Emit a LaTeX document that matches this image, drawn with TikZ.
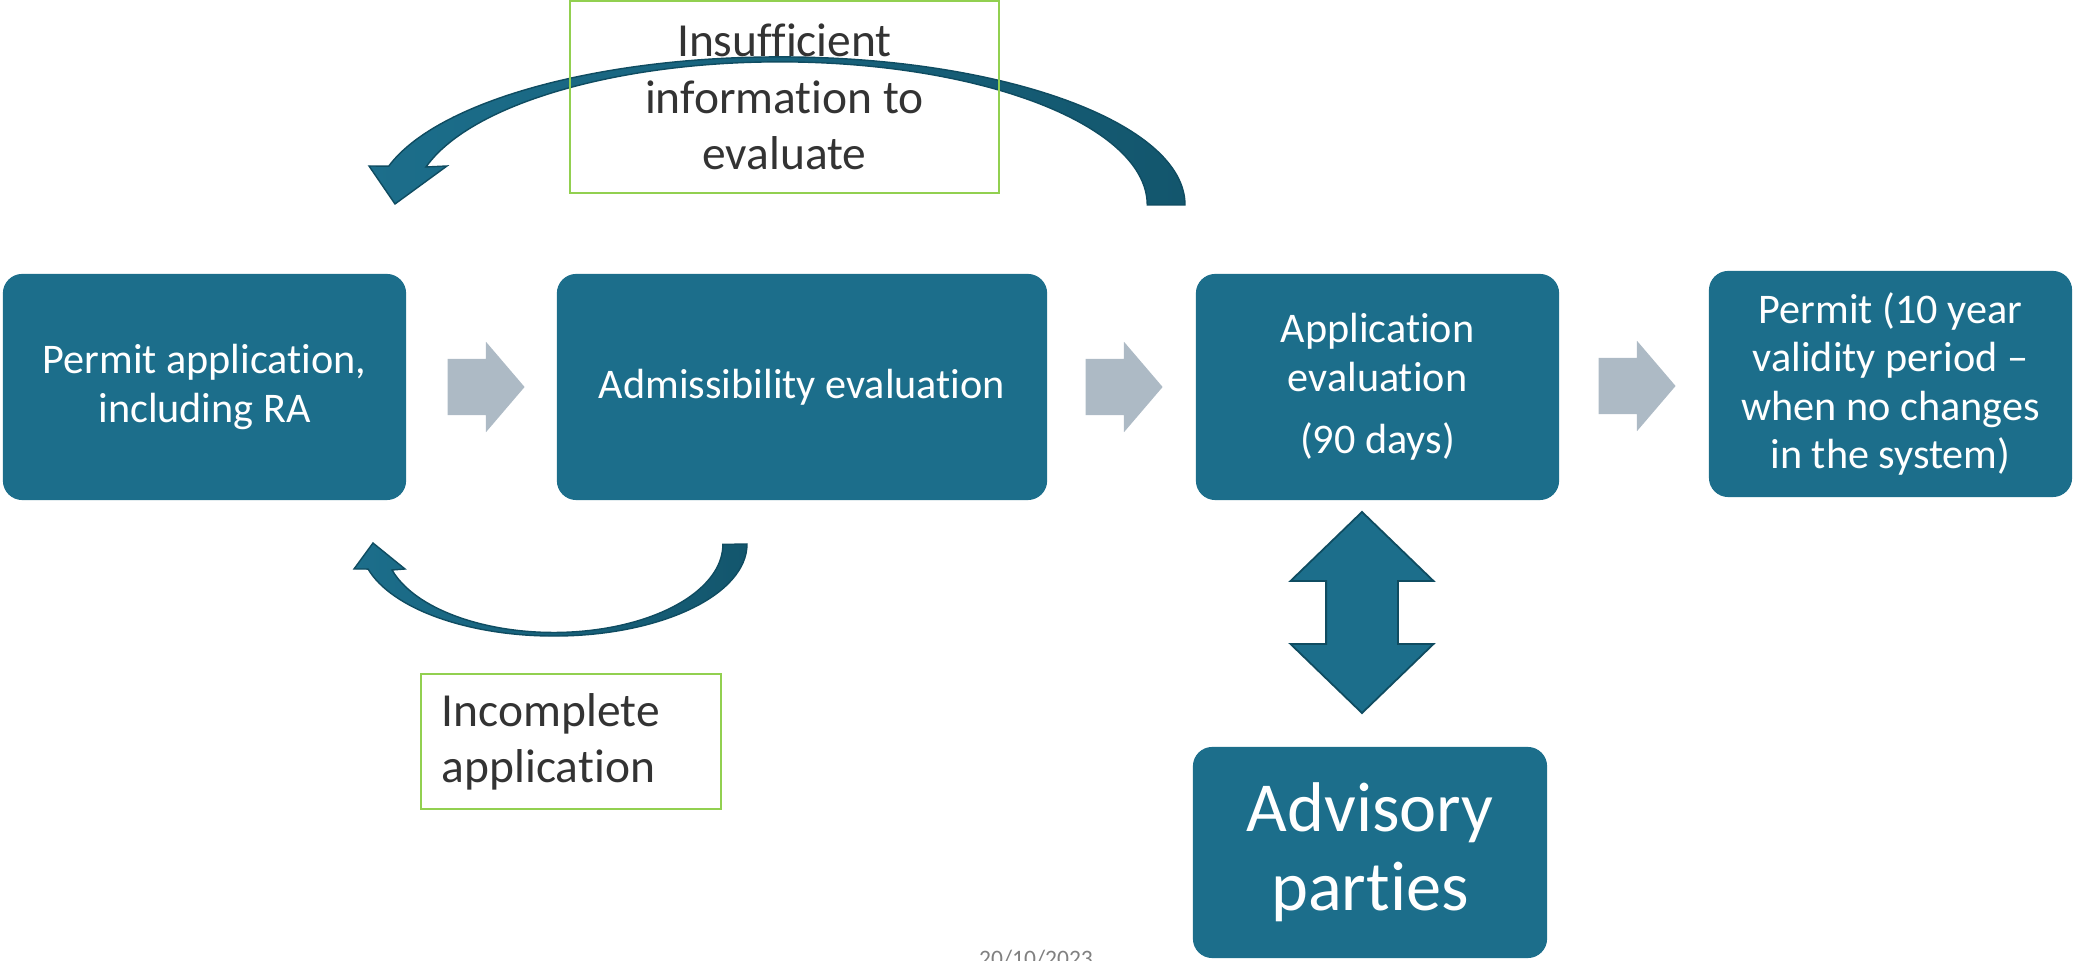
\documentclass[tikz,border=0pt]{standalone}
\usepackage{fontspec}
\setmainfont{Carlito}[Ligatures=NoCommon]
\usetikzlibrary{shapes.arrows,calc}
\definecolor{stepblue}{HTML}{1C6E8B}
\definecolor{stepdark}{HTML}{13566D}
\definecolor{stepedge}{HTML}{0F4C61}
\definecolor{flowgray}{HTML}{ADBAC5}
\definecolor{notegreen}{HTML}{92D050}
\definecolor{notetext}{HTML}{333333}
\tikzset{stage/.style={fill=stepblue,rounded corners=5.5pt,text=white,align=center,
           font=\fontsize{12}{13.8}\selectfont,minimum height=2.26cm,inner sep=0pt},
         flow/.style={single arrow,fill=flowgray,minimum height=0.77cm,inner xsep=0pt,
           inner ysep=0.275cm,single arrow head extend=0.17cm,single arrow tip angle=99,anchor=west},
         note/.style={draw=notegreen,line width=0.7pt,text=notetext,
           font=\fontsize{13.5}{16}\selectfont},
         loopback/.style={left color=stepblue,right color=stepdark,draw=stepedge,line width=0.4pt}}

\begin{document}
\begin{tikzpicture}[x=0.01cm,y=0.01cm]
\useasboundingbox (0,0) rectangle (2073,961);
\node[stage,minimum width=4.03cm] (apply) at (204.5,574) {Permit application,\\including RA};
\node[stage,minimum width=4.9cm] (admit) at (802,574) {Admissibility evaluation};
\node[stage,minimum width=3.63cm] (assess) at (1377.5,574) {Application\\evaluation\\[4pt](90 days)};
\node[stage,minimum width=3.63cm] (permit) at (1890.5,577) {Permit (10 year\\validity period --\\when no changes\\in the system)};
\node[stage,minimum width=3.54cm,minimum height=2.11cm,font=\fontsize{20}{22.5}\selectfont] (advice) at (1370,108.5) {Advisory\\parties};

\node[flow] (go1) at ($(apply.east)+(40,0)$) {};
\node[flow] (go2) at ($(admit.east)+(37,0)$) {};
\node[flow] (go3) at ($(assess.east)+(38,1)$) {};
\node[double arrow,fill=stepblue,draw=stepedge,line width=0.5pt,shape border rotate=90,
      minimum height=2.01cm,inner xsep=0.35cm,inner ysep=0pt,double arrow head extend=0.355cm,
      double arrow tip angle=92] (link) at (1362,348.5) {};

\draw[loopback] (1185,756) arc[start angle=0,end angle=164.8,x radius=4.05cm,y radius=1.48cm]
  -- (369,795) -- (395,757) -- (447,795) -- (426,794)
  arc[start angle=164.6,end angle=0,x radius=3.67cm,y radius=1.43cm] -- cycle;
\draw[loopback] (747,417) arc[start angle=0,end angle=-164.2,x radius=1.93cm,y radius=0.92cm]
  -- (354,392) -- (373,418) -- (405,392) -- (392,391)
  arc[start angle=-163.1,end angle=0,x radius=1.69cm,y radius=0.88cm] -- cycle;

\node[note,minimum width=4.29cm,minimum height=1.92cm,align=center] (lack) at (784.5,864) {Insufficient\\information to\\evaluate};
\node[note,text width=2.58cm,inner xsep=0.21cm,minimum height=1.35cm,align=left] (missing) at (571,219.5) {Incomplete\\application};
\node[text=gray,font=\fontsize{6.7}{8}\selectfont,anchor=base] (date) at (1036,-6) {20/10/2023};
\end{tikzpicture}
\end{document}
